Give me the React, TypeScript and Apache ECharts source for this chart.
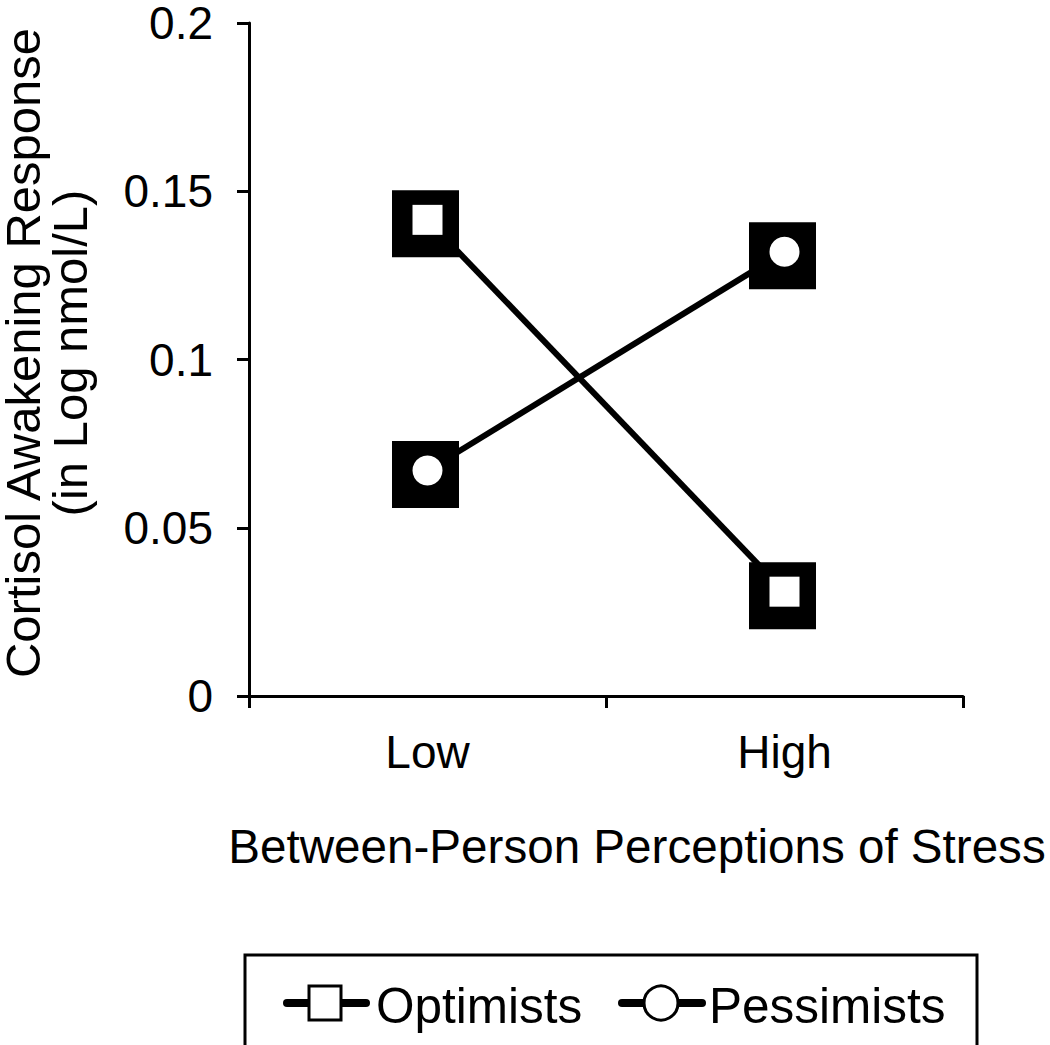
import React, { useEffect, useRef } from "react";
import * as echarts from "echarts";

const categories = ["Low", "High"];
const optimists = [0.1415, 0.031];
const pessimists = [0.067, 0.132];
const yTicks = { min: 0, max: 0.2, interval: 0.05 };
const xTitle = "Between-Person Perceptions of Stress";
const yTitle = "Cortisol Awakening Response\n(in Log nmol/L)";
const legendNames = ["Optimists", "Pessimists"];

const FONT = "Liberation Sans, Arial, sans-serif";

export default function App() {
  const ref = useRef<HTMLDivElement>(null);
  useEffect(() => {
    const chart = echarts.init(ref.current!, null, { renderer: "svg" });
    const markerOffset = [-2, 4];
    chart.setOption({
      animation: false,
      backgroundColor: "#ffffff",
      grid: { left: 249, top: 16, width: 714, height: 680 },
      xAxis: {
        type: "category",
        data: categories,
        boundaryGap: true,
        axisLine: { lineStyle: { color: "#000", width: 3 } },
        axisTick: { show: true, length: 12, lineStyle: { color: "#000", width: 3 } },
        axisLabel: { color: "#000", fontSize: 46, fontFamily: FONT, margin: 33 },
        splitLine: { show: false },
      },
      yAxis: {
        type: "value",
        min: yTicks.min,
        max: yTicks.max,
        interval: yTicks.interval,
        axisLine: { show: true, lineStyle: { color: "#000", width: 3 } },
        axisTick: { show: true, length: 12, lineStyle: { color: "#000", width: 3 } },
        axisLabel: { color: "#000", fontSize: 46, fontFamily: FONT, margin: 36 },
        splitLine: { show: false },
      },
      series: [
        {
          type: "line",
          name: legendNames[0],
          data: optimists,
          showSymbol: false,
          lineStyle: { color: "#000", width: 6 },
          z: 2,
        },
        {
          type: "line",
          name: legendNames[1],
          data: pessimists,
          showSymbol: false,
          lineStyle: { color: "#000", width: 6 },
          z: 2,
        },
        {
          type: "scatter",
          data: optimists,
          symbol: "rect",
          symbolSize: 67,
          symbolOffset: markerOffset,
          itemStyle: { color: "#000", opacity: 1 },
          z: 3,
        },
        {
          type: "scatter",
          data: optimists,
          symbol: "rect",
          symbolSize: 30,
          itemStyle: { color: "#fff", opacity: 1 },
          z: 4,
        },
        {
          type: "scatter",
          data: pessimists,
          symbol: "rect",
          symbolSize: 67,
          symbolOffset: markerOffset,
          itemStyle: { color: "#000", opacity: 1 },
          z: 3,
        },
        {
          type: "scatter",
          data: pessimists,
          symbol: "circle",
          symbolSize: 30,
          itemStyle: { color: "#fff", opacity: 1 },
          z: 4,
        },
      ],
      graphic: [
        {
          type: "text",
          x: 46,
          y: 353,
          rotation: Math.PI / 2,
          style: {
            text: yTitle,
            fontSize: 49,
            lineHeight: 47,
            fontFamily: FONT,
            fill: "#000",
            align: "center",
            verticalAlign: "middle",
          },
        },
        {
          type: "text",
          x: 637,
          y: 846,
          style: {
            text: xTitle,
            fontSize: 47.6,
            fontFamily: FONT,
            fill: "#000",
            align: "center",
            verticalAlign: "middle",
          },
        },
        {
          type: "rect",
          shape: { x: 245, y: 955, width: 732, height: 120 },
          style: { fill: "#fff", stroke: "#000", lineWidth: 3 },
        },
        {
          type: "line",
          shape: { x1: 287, y1: 1003, x2: 366, y2: 1003 },
          style: { stroke: "#000", lineWidth: 8, lineCap: "round" },
        },
        {
          type: "rect",
          shape: { x: 309, y: 986, width: 32, height: 34 },
          style: { fill: "#fff", stroke: "#000", lineWidth: 3 },
        },
        {
          type: "text",
          x: 376,
          y: 1005,
          style: {
            text: legendNames[0],
            fontSize: 49.5,
            fontFamily: FONT,
            fill: "#000",
            align: "left",
            verticalAlign: "middle",
          },
        },
        {
          type: "line",
          shape: { x1: 622, y1: 1003, x2: 702, y2: 1003 },
          style: { stroke: "#000", lineWidth: 8, lineCap: "round" },
        },
        {
          type: "circle",
          shape: { cx: 661, cy: 1003, r: 17 },
          style: { fill: "#fff", stroke: "#000", lineWidth: 3 },
        },
        {
          type: "text",
          x: 709,
          y: 1005,
          style: {
            text: legendNames[1],
            fontSize: 49.5,
            fontFamily: FONT,
            fill: "#000",
            align: "left",
            verticalAlign: "middle",
          },
        },
      ],
    });
    return () => chart.dispose();
  }, []);
  return (
    <div
      ref={ref}
      style={{ position: "absolute", left: 0, top: 0, width: 1050, height: 1045 }}
    />
  );
}
